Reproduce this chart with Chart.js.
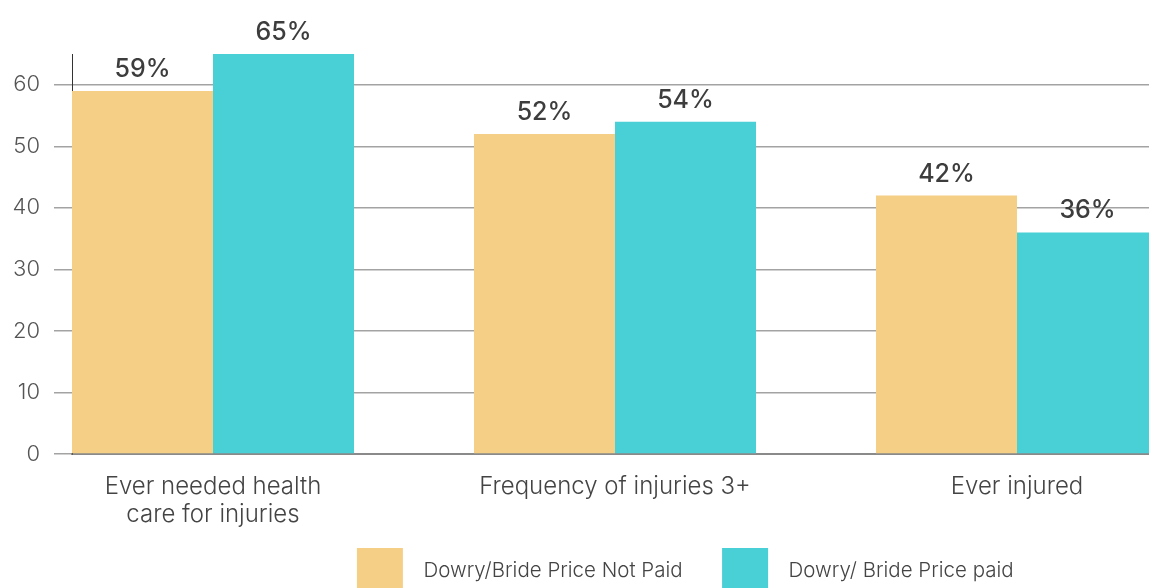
<!DOCTYPE html>
<html>
<head>
<meta charset="utf-8">
<script src="https://cdn.jsdelivr.net/npm/chart.js@4/dist/chart.umd.min.js"></script>
<style>
  html, body { margin: 0; padding: 0; background: #fff; overflow: hidden; }
</style>
</head>
<body>
<canvas id="chart" width="1391" height="604"></canvas>
<script>
// ─── DATA ────────────────────────────────────────────────
const categories = [['Ever needed health', 'care for injuries'], 'Frequency of injuries 3+', 'Ever injured'];
const seriesNames = ['Dowry/Bride Price Not Paid', 'Dowry/ Bride Price paid'];
const notPaid = [59, 52, 42];
const paid    = [65, 54, 36];
const yTicks  = [0, 10, 20, 30, 40, 50, 60];

const FONT = 'Inter, "Open Sans", sans-serif';
const YELLOW = '#F6CF86';
const TEAL   = '#48D0D6';

// Canvas is wider than the window: the right part of the chart is cut off,
// like in the reference. One category step is 402px.
const CANVAS_W = 1391;
const AXIS_LEFT = 72;
const STEP = 402;
const X_MIN = -141 / STEP;
const X_MAX = X_MIN + (CANVAS_W - AXIS_LEFT) / STEP;

// Percent labels above each bar
const barLabels = {
    id: 'barLabels',
    afterDatasetsDraw(chart) {
        const ctx = chart.ctx;
        ctx.save();
        ctx.font = `500 25px ${FONT}`;
        ctx.fillStyle = '#3d3d3d';
        ctx.textAlign = 'center';
        ctx.textBaseline = 'alphabetic';
        chart.data.datasets.forEach((ds, di) => {
            chart.getDatasetMeta(di).data.forEach((bar, i) => {
                ctx.fillText(`${ds.data[i].y}%`, bar.x, bar.y - 14);
            });
        });
        ctx.restore();
    }
};

const toPoints = arr => arr.map((v, i) => ({ x: i, y: v }));

new Chart(document.getElementById('chart'), {
    type: 'bar',
    data: {
        datasets: [
            { label: seriesNames[0], data: toPoints(notPaid), backgroundColor: YELLOW },
            { label: seriesNames[1], data: toPoints(paid),    backgroundColor: TEAL },
        ]
    },
    options: {
        responsive: false,
        animation: false,
        devicePixelRatio: 1,
        layout: { padding: { top: 54, left: 0, right: 0, bottom: 0 } },
        datasets: { bar: { barPercentage: 1, categoryPercentage: 282 / STEP } },
        scales: {
            x: {
                type: 'linear',
                min: X_MIN,
                max: X_MAX,
                offset: false,
                grid: { display: false, drawTicks: false },
                border: { color: '#8a8a8a', width: 2 },
                afterBuildTicks: s => { s.ticks = categories.map((c, i) => ({ value: i })); },
                afterFit: s => { s.height = 75; },
                ticks: {
                    autoSkip: false,
                    maxRotation: 0,
                    padding: 19,
                    color: '#444',
                    font: { family: FONT, size: 24, weight: 300, lineHeight: 28 / 24 },
                    callback: v => categories[v]
                }
            },
            y: {
                min: 0,
                max: 65,
                afterBuildTicks: s => { s.ticks = yTicks.map(v => ({ value: v })); },
                afterFit: s => { s.width = AXIS_LEFT; },
                grid: { color: '#a3a3a3', lineWidth: 1.5, tickLength: 18 },
                border: { color: '#333', width: 1 },
                ticks: {
                    padding: 14,
                    color: '#555',
                    font: { family: FONT, size: 22, weight: 300 }
                }
            }
        },
        plugins: {
            tooltip: { enabled: false },
            legend: {
                position: 'bottom',
                labels: {
                    boxWidth: 46,
                    boxHeight: 46,
                    padding: 19,
                    color: '#444',
                    font: { family: FONT, size: 20.5, weight: 300 },
                    generateLabels: chart => Chart.defaults.plugins.legend.labels
                        .generateLabels(chart)
                        .map(l => ({ ...l, text: '\u2002' + l.text + '\u2002\u2002' }))
                }
            }
        }
    },
    plugins: [barLabels]
});
</script>
</body>
</html>
